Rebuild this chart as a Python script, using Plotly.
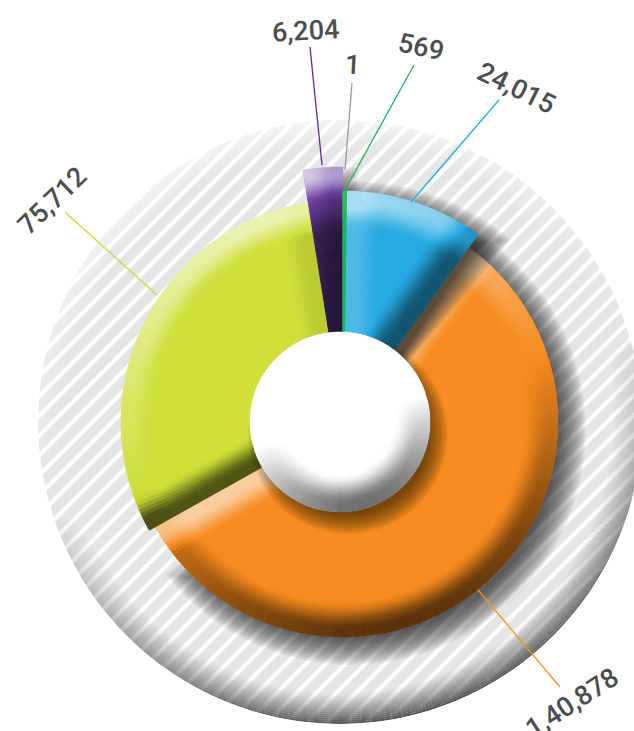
import math
import plotly.graph_objects as go

# ---- data ----
labels = ["1", "569", "24,015", "1,40,878", "75,712", "6,204"]
values = [1, 569, 24015, 140878, 75712, 6204]
colors = ["#9a9a9a", "#1fb45a", "#27aae1", "#f68b1f", "#d0df3a", "#6b3fa0"]
line_colors = ["#9a9a9a", "#1db45a", "#29abe2", "#f7931e", "#cbd63a", "#5b2d90"]
outer_radius = [231, 231, 231, 215, 222, 255]
HOLE = 90
BACK_R = 302

label_x = [352, 421, 516, 572, 52, 305]
label_y = [65, 47, 88, 703, 201, 31]
label_angle = [3, 12, 26, -33, -44, -3]
line_start = [(345, 170), (345, 190), (411, 202), (478, 590), (157, 295), (322, 165)]
line_end = [(352, 83), (414, 65), (499, 100), (560, 687), (65, 212), (310, 47)]

# ---- page geometry ----
W, H = 700, 760
CX, CY = 340, 422
SLICE_DX = 3
LIGHT = (-0.3, 0.95)

fig = go.Figure()
polars = {}


def polar(n, dx=0, dy=0, rmax=BACK_R):
    name = "polar" if n == 1 else f"polar{n}"
    cx, cy = CX + dx, CY + dy
    polars[name] = dict(
        domain=dict(x=[(cx - rmax) / W, (cx + rmax) / W],
                    y=[1 - (cy + rmax) / H, 1 - (cy - rmax) / H]),
        bgcolor="rgba(0,0,0,0)", barmode="overlay",
        radialaxis=dict(visible=False, range=[0, rmax]),
        angularaxis=dict(visible=False, rotation=90, direction="clockwise"),
    )
    return name


def mix(hexc, target, a):
    c = [int(hexc[i:i + 2], 16) for i in (1, 3, 5)]
    return "rgb(%d,%d,%d)" % tuple(round(v + (target - v) * a) for v in c)


def normal(t):
    return math.sin(math.radians(t)), math.cos(math.radians(t))


def dot(n):
    return n[0] * LIGHT[0] + n[1] * LIGHT[1]


def profile(d, band, plateau=1.25):
    x = min(1.0, max(0.0, (1 - d / band) * plateau))
    return x * x * (3 - 2 * x)


def cell_shade(r, t, t0, t1, R, band, sides, inner):
    s = profile(R - r, band) * dot(normal(t))
    edges = {"both": ((t0, -1, t - t0), (t1, 1, t1 - t)), "right": ((t1, 1, t1 - t),), "none": ()}[sides]
    for edge, sign, da in edges:
        dist = r * math.radians(da)
        ta = math.radians(edge)
        n = (sign * math.cos(ta), -sign * math.sin(ta))
        s += profile(dist, band) * dot(n)
    if inner:
        r_a, r_b, amount = inner
        x = min(1.0, max(0.0, (r_a - r) / (r_a - r_b)))
        s -= amount * x * x * (3 - 2 * x)
    return max(-1.0, min(1.0, s))


def add_slice(sp, t0, t1, R, col, band=30, rin=HOLE - 6, sides="both", lit=0.62, dark=0.65,
              step=1.0, inner=None, edge=0):
    mid = (t0 + t1) / 2
    fig.add_trace(go.Barpolar(r=[R - rin], base=[rin], theta=[mid], width=[t1 - t0],
                              marker=dict(color=col, line=dict(width=edge, color=col)),
                              subplot=sp, hoverinfo="skip", showlegend=False))
    rr, bb, tt, cc = [], [], [], []
    n = max(1, round((t1 - t0) / step))
    dt = (t1 - t0) / n
    r = rin
    while r < R:
        dr = min(2, R - r)
        for i in range(n):
            t = t0 + (i + 0.5) * dt
            s = cell_shade(r + dr / 2, t, t0, t1, R, band, sides, inner)
            if abs(s) < 0.012:
                continue
            rr.append(dr); bb.append(r); tt.append(t)
            cc.append(mix(col, 255, min(0.9, s * lit)) if s > 0 else mix(col, 0, min(0.85, -s * dark)))
        r += dr
    if rr:
        fig.add_trace(go.Barpolar(r=rr, base=bb, theta=tt, width=[dt] * len(rr),
                                  marker=dict(color=cc, line=dict(color=cc, width=0.5)),
                                  subplot=sp, hoverinfo="skip", showlegend=False))


def add_shadow(sp, t0, t1, R, rin=0, grow=16, shrink=8, alpha=0.06, layers=20):
    for k in range(layers):
        w = grow - k * (grow + shrink) / (layers - 1)
        pad = math.degrees(w / max(R, 1))
        a0, a1 = t0 - pad, t1 + pad
        fig.add_trace(go.Barpolar(r=[R + w - rin], base=[rin], theta=[(a0 + a1) / 2], width=[min(360, a1 - a0)],
                                  marker=dict(color=f"rgba(20,15,10,{alpha})", line=dict(width=0)),
                                  subplot=sp, hoverinfo="skip", showlegend=False))


# slice angles taken from the values
total = sum(values)
angles, acc = [], 0.0
for v in values:
    angles.append((acc * 360 / total, (acc + v) * 360 / total))
    acc += v
idx = {lab: i for i, lab in enumerate(labels)}
ang = lambda lab: angles[idx[lab]]
rad = lambda lab: outer_radius[idx[lab]]
col = lambda lab: colors[idx[lab]]
ORANGE, BLUE, LIME, PURPLE, SLIVER = "1,40,878", "24,015", "75,712", "6,204", "569"

# --- 1: striped backdrop with a soft bevelled rim ---
p = polar(1)
fig.add_trace(go.Barpolar(r=[BACK_R], base=[0], theta=[180], width=[360],
                          marker=dict(color="#e6e7e8", line=dict(width=0),
                                      pattern=dict(shape="/", bgcolor="#e3e5e6", fgcolor="#ffffff", fgopacity=1,
                                                   size=14, solidity=0.3, fillmode="overlay")),
                          subplot=p, hoverinfo="skip", showlegend=False))
rr, bb, tt, cc = [], [], [], []
band = 30
step_t = 2
for k in range(0, band, 2):
    base_r = BACK_R - band + k
    for a in range(0, 360, step_t):
        t = a + step_t / 2
        s = ((k + 2) / band) ** 1.2 * dot(normal(t))
        if abs(s) < 0.02:
            continue
        rr.append(2); bb.append(base_r); tt.append(t)
        cc.append(f"rgba(255,255,255,{s * 0.65:.3f})" if s > 0 else f"rgba(45,45,45,{-s * 0.8:.3f})")
fig.add_trace(go.Barpolar(r=rr, base=bb, theta=tt, width=[step_t] * len(rr),
                          marker=dict(color=cc, line=dict(width=0)),
                          subplot=p, hoverinfo="skip", showlegend=False))

# --- 2: orange shadow; 3: orange and lime ---
a0, a1 = ang(ORANGE)
p = polar(2, SLICE_DX + 8, 8, 262)
add_shadow(p, a0, a1 - 14, rad(ORANGE), grow=20, shrink=8, alpha=0.05)
p = polar(3, SLICE_DX)
add_slice(p, *ang(ORANGE), rad(ORANGE), col(ORANGE), band=36, step=1.0)
add_slice(p, *ang(LIME), rad(LIME), col(LIME), band=34)

# --- 4: shadows of blue and purple; 5: blue, purple, sliver ---
p = polar(4, SLICE_DX + 8, 8, 280)
add_shadow(p, *ang(BLUE), rad(BLUE), grow=18, shrink=8, alpha=0.05)
add_shadow(p, *ang(PURPLE), rad(PURPLE), grow=8, shrink=4, alpha=0.03, layers=12)
p = polar(5, SLICE_DX)
add_slice(p, *ang(BLUE), rad(BLUE), col(BLUE), band=38, step=0.6)
add_slice(p, *ang(PURPLE), rad(PURPLE), col(PURPLE), band=36, step=0.4, lit=0.75, dark=0.75,
          sides="right", inner=(225, 185, 0.55))
add_slice(p, *ang(SLIVER), rad(SLIVER), col(SLIVER), sides="none", step=0.8, lit=0.1, dark=0.1, edge=1.5)

# --- 6: hole shadow; 7: hole ---
p = polar(6, 8, 12, 130)
add_shadow(p, 0, 360, HOLE, grow=10, shrink=10, alpha=0.04)
p = polar(7)
add_slice(p, 0, 360, HOLE, "#ffffff", band=38, rin=40, sides="none", lit=0, dark=0.58, step=2)
fig.add_trace(go.Barpolar(r=[45], base=[0], theta=[180], width=[360],
                          marker=dict(color="#ffffff", line=dict(width=0)),
                          subplot=p, hoverinfo="skip", showlegend=False))

# --- leader lines and labels ---
shapes = []
for i, lab in enumerate(labels):
    (x0, y0), (x1, y1) = line_start[i], line_end[i]
    shapes.append(dict(type="line", xref="paper", yref="paper", layer="above",
                       x0=x0 / W, x1=x1 / W, y0=1 - y0 / H, y1=1 - y1 / H,
                       line=dict(color=line_colors[i], width=1.3)))
annotations = [dict(text=lab, xref="paper", yref="paper", x=label_x[i] / W, y=1 - label_y[i] / H,
                    xanchor="center", yanchor="middle", showarrow=False, textangle=label_angle[i],
                    font=dict(family="Roboto", size=27, color="#4d4d4f", weight=500))
               for i, lab in enumerate(labels)]

fig.update_layout(width=W, height=H, autosize=False, margin=dict(l=0, r=0, t=0, b=0),
                  paper_bgcolor="white", plot_bgcolor="white", showlegend=False,
                  shapes=shapes, annotations=annotations, **polars)
fig.write_html("out.html", config=dict(displayModeBar=False),
               post_script="document.documentElement.style.overflow='hidden';"
                           "document.body.style.overflow='hidden';document.body.style.margin='0';")
